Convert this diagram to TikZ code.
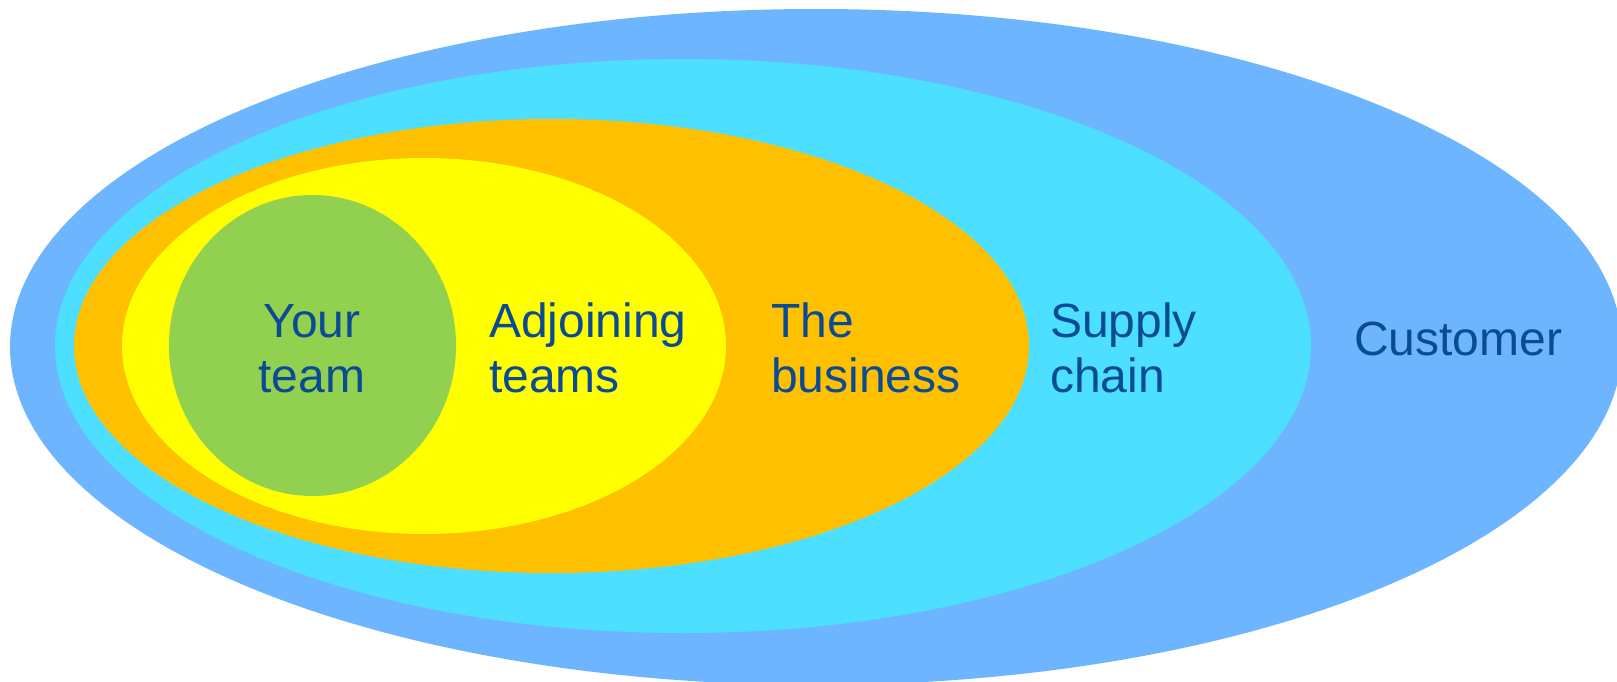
\documentclass[tikz,border=0pt]{standalone}
\usepackage{fontspec}
\setmainfont{Liberation Sans}
\usetikzlibrary{shapes.geometric}

% circle-of-influence palette
\definecolor{zoneCustomer}{RGB}{109,182,255}
\definecolor{zoneSupply}{RGB}{76,223,255}
\definecolor{zoneBusiness}{RGB}{255,192,0}
\definecolor{zoneAdjoining}{RGB}{255,255,0}
\definecolor{zoneTeam}{RGB}{146,208,80}
\definecolor{labelBlue}{RGB}{11,75,148}

\begin{document}
\begin{tikzpicture}[x=1pt,y=-1pt,
  zone/.style={ellipse,inner sep=0pt,outer sep=0pt,draw=none},
  zonelabel/.style={text=labelBlue,inner sep=0pt,outer sep=0pt,
    font=\fontsize{48}{55}\selectfont}]
  \useasboundingbox (0,0) rectangle (1617,682);
  \clip (0,0) rectangle (1617,682);

  % nested zones, outermost first
  \node[zone,fill=zoneCustomer,minimum width=1612pt,minimum height=676pt] (customer) at (816,347) {};
  \node[zone,fill=zoneSupply,minimum width=1256pt,minimum height=574pt] (supply) at (683,346) {};
  \node[zone,fill=zoneBusiness,minimum width=955pt,minimum height=454pt] (business) at (551.5,346) {};
  \node[zone,fill=zoneAdjoining,minimum width=604pt,minimum height=376pt] (adjoining) at (424,346) {};
  \node[zone,fill=zoneTeam,minimum width=287pt,minimum height=301pt] (team) at (312.5,345.5) {};

  % zone labels (anchored at the first baseline)
  \node[zonelabel,anchor=base] (teamText) at (312,337)
    {\begin{tabular}[t]{@{}c@{}}Your\\team\end{tabular}};
  \node[zonelabel,anchor=base west] (adjoiningText) at (489,337)
    {\begin{tabular}[t]{@{}l@{}}Adjoining\\teams\end{tabular}};
  \node[zonelabel,anchor=base west] (businessText) at (771,337)
    {\begin{tabular}[t]{@{}l@{}}The\\business\end{tabular}};
  \node[zonelabel,anchor=base west] (supplyText) at (1050,337)
    {\begin{tabular}[t]{@{}l@{}}Supply\\chain\end{tabular}};
  \node[zonelabel,anchor=base west] (customerText) at (1354,355) {Customer};
\end{tikzpicture}
\end{document}
